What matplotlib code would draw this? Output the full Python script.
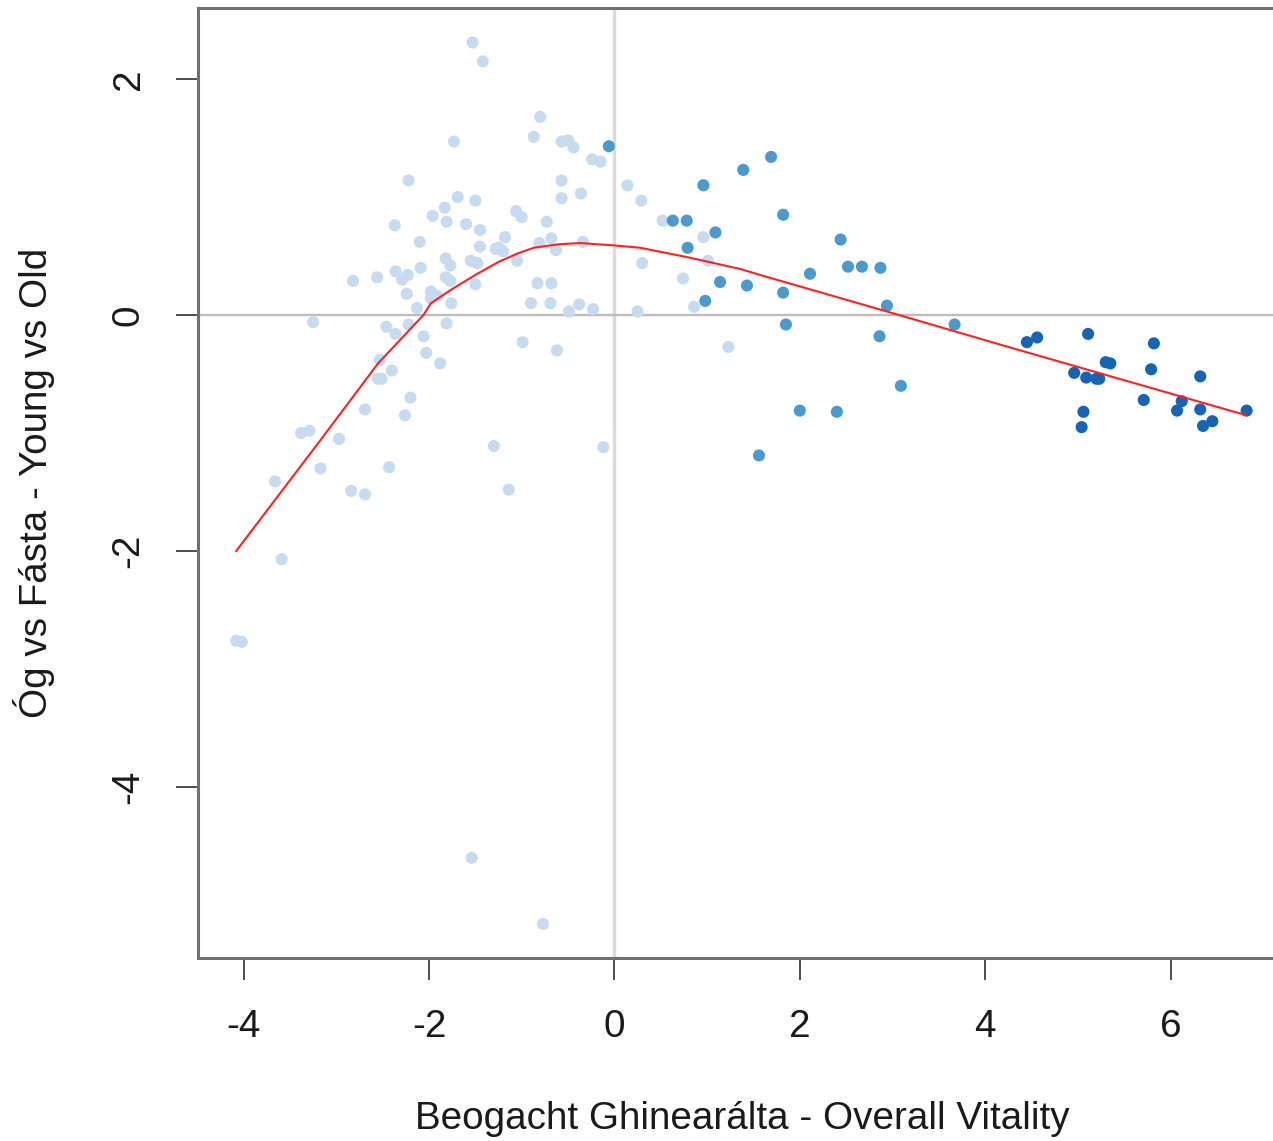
import matplotlib
matplotlib.use("Agg")
import matplotlib.pyplot as plt

plt.rcParams["font.family"] = ["Liberation Sans", "DejaVu Sans"]

# light group (left cluster)
light_x = [-1.53, -1.42, -0.80, -1.73, -0.87, -0.57, -0.50, -0.44, -0.24, -0.15,
           -2.22, -0.57, -0.36, -0.57, 0.14, 0.29, -1.69, -1.50, -1.83, -1.96,
           -1.81, -1.60, -1.45, -2.37, -2.10, -1.45, -1.28, -1.82, -1.77, -1.55,
           -1.48, -2.09, -2.36, -2.23, -2.29, -2.82, -2.56, -1.82, -1.77, -1.50,
           -2.24, -1.98, -1.98, -1.91, -1.76, -2.13, -3.25, -2.46, -2.36, -2.22,
           -1.81, -2.06, -2.03, -1.88, -2.53, -2.40, -2.55, -2.51, -2.20, -2.69,
           -2.26, -3.38, -3.29, -2.97, -1.30, -3.17, -2.43, -3.66, -2.84, -2.69,
           -3.59, -4.08, -4.02, -1.54, -0.77, -1.06, -1.00, -0.73, -1.18, -1.25,
           -1.20, -1.05, -0.81, -0.68, -0.63, -0.34, -0.83, -0.68, -0.90, -0.69,
           -0.49, -0.38, -0.23, -0.99, -0.62, -0.12, -1.14, 0.52, 0.96, 0.30,
           1.01, 0.74, 0.86, 0.25, 1.23]
light_y = [2.31, 2.15, 1.68, 1.47, 1.51, 1.47, 1.48, 1.42, 1.32, 1.30,
           1.14, 1.14, 1.03, 0.99, 1.10, 0.97, 1.00, 0.97, 0.91, 0.84,
           0.79, 0.77, 0.72, 0.76, 0.62, 0.58, 0.56, 0.48, 0.42, 0.46,
           0.44, 0.40, 0.37, 0.34, 0.30, 0.29, 0.32, 0.32, 0.29, 0.26,
           0.18, 0.20, 0.14, 0.16, 0.10, 0.06, -0.06, -0.10, -0.16, -0.08,
           -0.07, -0.18, -0.32, -0.41, -0.38, -0.47, -0.54, -0.54, -0.70, -0.80,
           -0.85, -1.00, -0.98, -1.05, -1.11, -1.30, -1.29, -1.41, -1.49, -1.52,
           -2.07, -2.76, -2.77, -4.60, -5.16, 0.88, 0.83, 0.79, 0.66, 0.57,
           0.54, 0.46, 0.61, 0.65, 0.55, 0.62, 0.27, 0.27, 0.10, 0.10,
           0.03, 0.09, 0.05, -0.23, -0.30, -1.12, -1.48, 0.80, 0.66, 0.44,
           0.46, 0.31, 0.07, 0.03, -0.27]

# medium group
mid_x = [-0.06, 0.63, 0.78, 0.96, 1.39, 1.69, 1.82, 1.09, 0.79, 1.14,
         1.43, 1.82, 0.98, 1.56, 1.85, 2.44, 2.11, 2.52, 2.67, 2.87,
         2.94, 2.86, 3.67, 3.09, 2.00, 2.40]
mid_y = [1.43, 0.80, 0.80, 1.10, 1.23, 1.34, 0.85, 0.70, 0.57, 0.28,
         0.25, 0.19, 0.12, -1.19, -0.08, 0.64, 0.35, 0.41, 0.41, 0.40,
         0.08, -0.18, -0.08, -0.60, -0.81, -0.82]

# dark group (right cluster)
dark_x = [4.45, 4.56, 5.11, 5.82, 5.30, 5.35, 5.79, 4.96, 5.09, 5.20,
          5.23, 6.32, 5.71, 6.07, 6.12, 6.32, 5.06, 5.04, 6.35, 6.45, 6.82]
dark_y = [-0.23, -0.19, -0.16, -0.24, -0.40, -0.41, -0.46, -0.49, -0.53, -0.54,
          -0.54, -0.52, -0.72, -0.81, -0.73, -0.80, -0.82, -0.95, -0.94, -0.90, -0.81]

# smoothed trend
fit_x = [-4.08, -3.19, -2.55, -2.06, -1.98, -1.75, -1.50, -1.25, -1.05, -0.87,
         -0.60, -0.37, 0.0, 0.28, 0.79, 1.36, 1.57, 2.94, 4.16, 4.38, 6.82]
fit_y = [-2.00, -1.08, -0.41, 0.0, 0.10, 0.22, 0.34, 0.45, 0.52, 0.57,
         0.60, 0.61, 0.59, 0.57, 0.49, 0.39, 0.34, 0.03, -0.25, -0.30, -0.85]

x_ticks = [-4, -2, 0, 2, 4, 6]
y_ticks = [2, 0, -2, -4]

W, H = 1273, 1141
fig = plt.figure(figsize=(W / 100, H / 100), dpi=100)
ax = fig.add_axes([198 / W, 1 - 958 / H, (1286 - 198) / W, (958 - 8) / H])

ax.axvline(0, color="#dadada", lw=2.4, zorder=1)
ax.axhline(0, color="#bdbdbd", lw=1.7, zorder=1)

ax.scatter(light_x, light_y, s=76, color="#c6dbef", edgecolors="none", zorder=2)
ax.scatter(mid_x, mid_y, s=76, color="#4a9ad0", edgecolors="none", zorder=3)
ax.scatter(dark_x, dark_y, s=76, color="#1565b4", edgecolors="none", zorder=3)
ax.plot(fit_x, fit_y, color="#ff2020", lw=1.5, zorder=4)

ax.set_xlim(-4.492, 7.245)
ax.set_ylim(-5.449, 2.602)
ax.set_xticks(x_ticks)
ax.set_yticks(y_ticks)
ax.set_xticklabels([str(v) for v in x_ticks])
ax.set_yticklabels([str(v) for v in y_ticks], rotation=90, va="center")

for sp in ax.spines.values():
    sp.set_color("#707070")
    sp.set_linewidth(2.2)

ax.tick_params(axis="both", length=16, width=1.2, color="#303030",
               labelsize=27.8, labelcolor="#1a1a1a")
ax.tick_params(axis="x", pad=21)
ax.tick_params(axis="y", pad=21)

ax.set_xlabel("Beogacht Ghinearálta - Overall Vitality", fontsize=27.8,
              color="#1a1a1a", labelpad=40)
ax.set_ylabel("Óg vs Fásta - Young vs Old", fontsize=27.8,
              color="#1a1a1a", labelpad=40)

fig.savefig("out.png", dpi=100)
